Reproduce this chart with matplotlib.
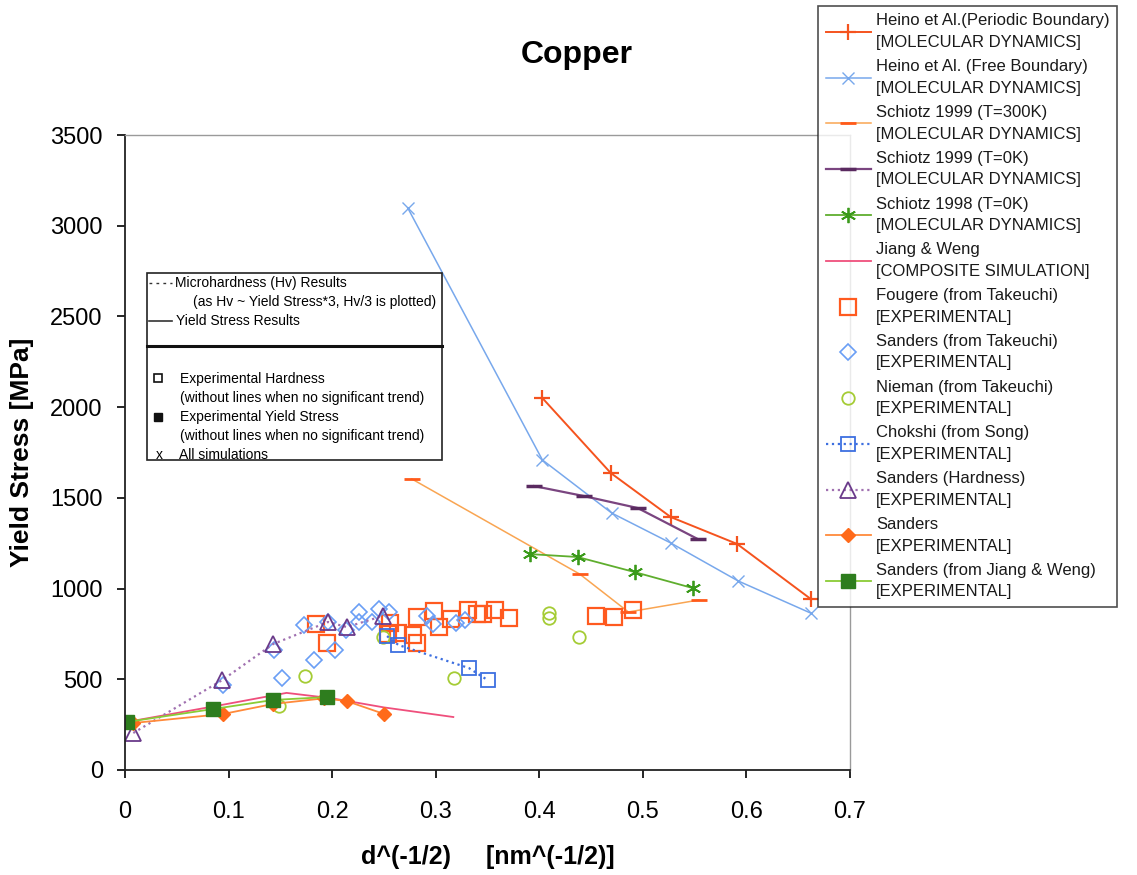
import matplotlib
matplotlib.use('Agg')
import matplotlib.pyplot as plt
from matplotlib.lines import Line2D
from matplotlib.patches import Rectangle

plt.rcParams['font.family'] = ['Liberation Sans', 'DejaVu Sans']

# --- data ---
heino_p_x = [0.403, 0.469, 0.527, 0.591, 0.662]
heino_p_y = [2050, 1637, 1394, 1246, 943]

heino_f_x = [0.273, 0.403, 0.470, 0.527, 0.592, 0.662]
heino_f_y = [3098, 1709, 1416, 1251, 1042, 865]

sch300_x = [0.277, 0.439, 0.486, 0.554]
sch300_y = [1604, 1080, 871, 937]

sch0_x = [0.395, 0.443, 0.495, 0.553]
sch0_y = [1565, 1510, 1444, 1273]

sch98_x = [0.391, 0.437, 0.492, 0.548]
sch98_y = [1190, 1174, 1091, 1003]

jw_x = [0.002, 0.09, 0.156, 0.2, 0.25, 0.317]
jw_y = [265, 355, 425, 395, 345, 292]

fougere_x = [0.184, 0.195, 0.256, 0.254, 0.264, 0.278, 0.282, 0.282, 0.298, 0.303,
             0.315, 0.331, 0.340, 0.346, 0.357, 0.371, 0.455, 0.472, 0.490]
fougere_y = [805, 700, 810, 750, 755, 744, 700, 843, 876, 788,
             832, 882, 860, 860, 882, 838, 849, 843, 882]

sandt_x = [0.095, 0.144, 0.152, 0.173, 0.182, 0.203, 0.196, 0.213, 0.226, 0.226,
           0.238, 0.245, 0.255, 0.292, 0.297, 0.320, 0.328]
sandt_y = [468, 661, 507, 799, 606, 661, 816, 772, 871, 816,
           816, 887, 871, 849, 804, 810, 827]

nieman_x = [0.149, 0.174, 0.249, 0.318, 0.409, 0.409, 0.438]
nieman_y = [355, 520, 735, 505, 868, 840, 735]

chokshi_x = [0.253, 0.264, 0.332, 0.350]
chokshi_y = [738, 689, 562, 496]

sandh_x = [0.008, 0.094, 0.143, 0.196, 0.214, 0.249]
sandh_y = [204, 496, 694, 816, 788, 849]

sand_x = [0.008, 0.095, 0.143, 0.192, 0.214, 0.250]
sand_y = [259, 309, 364, 395, 380, 309]

sandjw_x = [0.002, 0.085, 0.143, 0.195]
sandjw_y = [265, 336, 386, 402]

labels = [
    'Heino et Al.(Periodic Boundary)\n[MOLECULAR DYNAMICS]',
    'Heino et Al. (Free Boundary)\n[MOLECULAR DYNAMICS]',
    'Schiotz 1999 (T=300K)\n[MOLECULAR DYNAMICS]',
    'Schiotz 1999 (T=0K)\n[MOLECULAR DYNAMICS]',
    'Schiotz 1998 (T=0K)\n[MOLECULAR DYNAMICS]',
    'Jiang & Weng\n[COMPOSITE SIMULATION]',
    'Fougere (from Takeuchi)\n[EXPERIMENTAL]',
    'Sanders (from Takeuchi)\n[EXPERIMENTAL]',
    'Nieman (from Takeuchi)\n[EXPERIMENTAL]',
    'Chokshi (from Song)\n[EXPERIMENTAL]',
    'Sanders (Hardness)\n[EXPERIMENTAL]',
    'Sanders\n[EXPERIMENTAL]',
    'Sanders (from Jiang & Weng)\n[EXPERIMENTAL]',
]

W, H = 1137, 875
fig = plt.figure(figsize=(W / 100, H / 100), dpi=100)
ax = fig.add_axes([125 / W, 1 - 770 / H, 725 / W, 635 / H])

h = []
h += ax.plot(heino_p_x, heino_p_y, '-', color='#f5531e', lw=1.4, marker='+', ms=11, mew=1.6)
h += ax.plot(heino_f_x, heino_f_y, '-', color='#78a8ec', lw=1.1, marker='x', ms=8, mew=1.0)
h += ax.plot(sch300_x, sch300_y, '-', color='#f9a552', lw=1.1, marker='_', ms=12, mew=2,
             mec='#ff5a1a')
h += ax.plot(sch0_x, sch0_y, '-', color='#7a4580', lw=1.6, marker='_', ms=12, mew=2.5,
             mec='#5a2a60')
h += ax.plot(sch98_x, sch98_y, '-', color='#5fae2e', lw=1.3, marker=(6, 2, 0), ms=11,
             mew=1.3, mec='#3a9a1a')
h += ax.plot(jw_x, jw_y, '-', color='#ef4f7c', lw=1.3)
h += ax.plot(fougere_x, fougere_y, 's', ls='none', mfc='none', mec='#ff5a1f', ms=11, mew=1.6)
h += ax.plot(sandt_x, sandt_y, 'D', ls='none', mfc='none', mec='#6a9ef5', ms=8.5, mew=1.2)
h += ax.plot(nieman_x, nieman_y, 'o', ls='none', mfc='none', mec='#a5cc35', ms=9, mew=1.3)
h += ax.plot(chokshi_x, chokshi_y, ':', color='#3d6fe0', lw=1.6, marker='s', mfc='none',
             mec='#3d6fe0', ms=10, mew=1.3)
h += ax.plot(sandh_x, sandh_y, ':', color='#a070b0', lw=1.6, marker='^', mfc='none',
             mec='#6a3a8a', ms=11, mew=1.3)
h += ax.plot(sand_x, sand_y, '-', color='#ff8a3a', lw=1.3, marker='D', mfc='#ff6a1a',
             mec='#ff6a1a', ms=7.5)
h += ax.plot(sandjw_x, sandjw_y, '-', color='#8acc35', lw=1.3, marker='s', mfc='#2e7d1e',
             mec='#2e7d1e', ms=9.5)

ax.set_xlim(0, 0.7)
ax.set_ylim(0, 3500)
ax.set_xticks([0, 0.1, 0.2, 0.3, 0.4, 0.5, 0.6, 0.7])
ax.set_xticklabels(['0', '0.1', '0.2', '0.3', '0.4', '0.5', '0.6', '0.7'])
ax.set_yticks(range(0, 3501, 500))
ax.tick_params(axis='both', direction='out', length=6, width=1.2, labelsize=17)
ax.tick_params(axis='x', pad=16)
ax.tick_params(axis='y', pad=10)
for s in ['left', 'bottom']:
    ax.spines[s].set_linewidth(1.3)
    ax.spines[s].set_color('#222222')
for s in ['top', 'right']:
    ax.spines[s].set_linewidth(1.0)
    ax.spines[s].set_color('#9a9a9a')

fig.text(577 / W, 1 - 55 / H, 'Copper', ha='center', va='center', fontsize=23,
         fontweight='bold')
ax.set_xlabel('d^(-1/2)     [nm^(-1/2)]', fontsize=18, fontweight='bold', labelpad=16)
ax.set_ylabel('Yield Stress [MPa]', fontsize=19, fontweight='bold', labelpad=12)

leg = ax.legend(h, labels, loc='upper left', bbox_to_anchor=(818 / W, 1 - 6 / H),
                bbox_transform=fig.transFigure, fontsize=12, frameon=True,
                fancybox=False, edgecolor='#222222', borderaxespad=0, borderpad=0.45,
                labelspacing=0.55, handlelength=2.7, handletextpad=0.35, numpoints=1)
leg.get_frame().set_linewidth(1.2)
leg.set_zorder(10)
for t in leg.get_texts():
    t.set_color('#1a1a1a')
    t.set_linespacing(1.55)


# --- inner explanation box ---
def fx(x):
    return x / W


def fy(y):
    return 1 - y / H


fig.add_artist(Rectangle((fx(147), fy(460)), fx(442) - fx(147), fy(273) - fy(460),
                         transform=fig.transFigure, facecolor='white',
                         edgecolor='#222222', lw=1.2, zorder=5))
fig.add_artist(Line2D([fx(147), fx(442)], [fy(346), fy(346)], transform=fig.transFigure,
                      color='#111111', lw=2.2, zorder=6))
fig.add_artist(Line2D([fx(149), fx(172)], [fy(283), fy(283)], transform=fig.transFigure,
                      color='#333333', lw=1.0, ls=(0, (2, 3)), zorder=6))
fig.add_artist(Line2D([fx(149), fx(172)], [fy(321), fy(321)], transform=fig.transFigure,
                      color='#333333', lw=1.2, zorder=6))
fig.add_artist(Line2D([fx(158)], [fy(378)], transform=fig.transFigure, marker='s',
                      mfc='none', mec='#111111', ms=6, mew=1.2, zorder=6))
fig.add_artist(Line2D([fx(158)], [fy(417)], transform=fig.transFigure, marker='s',
                      mfc='#111111', mec='#111111', ms=6, zorder=6))

box_fs = 10
fig.text(fx(175), fy(283), 'Microhardness (Hv) Results', fontsize=box_fs, va='center', zorder=7)
fig.text(fx(193), fy(302), '(as Hv ~ Yield Stress*3, Hv/3 is plotted)', fontsize=box_fs,
         va='center', zorder=7)
fig.text(fx(176), fy(321), 'Yield Stress Results', fontsize=box_fs, va='center', zorder=7)
fig.text(fx(180), fy(379), 'Experimental Hardness', fontsize=box_fs, va='center', zorder=7)
fig.text(fx(180), fy(398), '(without lines when no significant trend)', fontsize=box_fs,
         va='center', zorder=7)
fig.text(fx(180), fy(417), 'Experimental Yield Stress', fontsize=box_fs, va='center', zorder=7)
fig.text(fx(180), fy(436), '(without lines when no significant trend)', fontsize=box_fs,
         va='center', zorder=7)
fig.text(fx(156), fy(455), 'x', fontsize=box_fs, va='center', zorder=7)
fig.text(fx(179), fy(455), 'All simulations', fontsize=box_fs, va='center', zorder=7)

fig.savefig('out.png', dpi=100)
